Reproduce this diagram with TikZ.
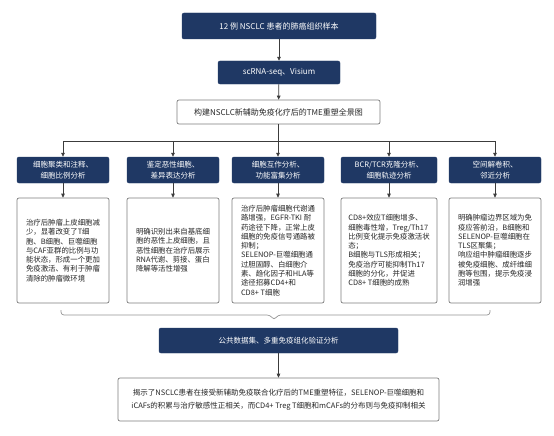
\documentclass[tikz,border=0pt]{standalone}
\usepackage{fontspec}
\setmainfont{Noto Sans CJK SC}
\usetikzlibrary{arrows.meta}
\definecolor{navy}{RGB}{31,56,100}
\definecolor{edgegray}{RGB}{125,125,125}
\definecolor{linegray}{RGB}{60,60,60}
\definecolor{bracegray}{RGB}{150,150,150}
\begin{document}
\begin{tikzpicture}[x=1pt,y=-1pt,
  navybox/.style={fill=navy, draw=navy, rounded corners=2pt, text=white, align=center, inner sep=0pt},
  whitebox/.style={draw=edgegray, fill=white, rounded corners=2pt, line width=0.7pt, inner sep=0pt, text=black!85},
  arr/.style={-{Triangle[length=4pt,width=3.6pt]}, draw=linegray, line width=0.7pt},
  conn/.style={draw=linegray, line width=0.7pt},
  hfont/.style={font=\fontsize{7.5}{11}\selectfont},
  dfont/.style={font=\fontsize{7.4}{9.3}\selectfont, align=left}
]
\useasboundingbox (0,0) rectangle (554,436);
\fill[white] (0,0) rectangle (554,436);

\node[navybox, minimum width=194pt, minimum height=26pt, font=\fontsize{8}{10}\selectfont] (top) at (279,26) {12 例 NSCLC 患者的肺癌组织样本};
\node[navybox, minimum width=122pt, minimum height=23pt, font=\fontsize{8}{10}\selectfont] (scr) at (279,72.5) {scRNA-seq、Visium};
\node[whitebox, minimum width=203pt, minimum height=24pt, font=\fontsize{8}{10}\selectfont] (full) at (278.5,112) {构建NSCLC新辅助免疫化疗后的TME重塑全景图};

\draw[arr] (top) -- (scr);
\draw[arr] (scr) -- (full);

% headers
\node[navybox, hfont, minimum width=92pt, minimum height=26pt] (h1) at (63,170) {细胞聚类和注释、\\细胞比例分析};
\node[navybox, hfont, minimum width=92pt, minimum height=26pt] (h2) at (173,170) {鉴定恶性细胞、\\差异表达分析};
\node[navybox, hfont, minimum width=92pt, minimum height=26pt] (h3) at (278,170) {细胞互作分析、\\功能富集分析};
\node[navybox, hfont, minimum width=96pt, minimum height=26pt] (h4) at (389,170) {BCR/TCR克隆分析、\\细胞轨迹分析};
\node[navybox, hfont, minimum width=92pt, minimum height=26pt] (h5) at (495,170) {空间解卷积、\\邻近分析};

\coordinate (hub) at (278.5,141);
\draw[conn] (full.south) -- (hub);
\draw[conn] (h1.north |- hub) -- (h5.north |- hub);
\foreach \h in {h1,h2,h3,h4,h5} {\draw[arr] (\h.north |- hub) -- (\h.north);}

% details
\node[whitebox, dfont, minimum width=92pt, minimum height=105pt] (d1) at (63,250.5) {治疗后肿瘤上皮细胞减\\少，显著改变了T细\\胞、B细胞、巨噬细胞\\与CAF亚群的比例与功\\能状态，形成一个更加\\免疫激活、有利于肿瘤\\清除的肿瘤微环境};
\node[whitebox, dfont, minimum width=92pt, minimum height=105pt] (d2) at (173,250.5) {明确识别出来自基底细\\胞的恶性上皮细胞，且\\恶性细胞在治疗后展示\\RNA代谢、剪接、蛋白\\降解等活性增强};
\node[whitebox, dfont, minimum width=92pt, minimum height=105pt] (d3) at (278,250.5) {治疗后肿瘤细胞代谢通\\路增强，EGFR-TKI 耐\\药途径下降，正常上皮\\细胞的免疫信号通路被\\抑制；\\SELENOP-巨噬细胞通\\过胆固醇、白细胞介\\素、趋化因子和HLA等\\途径招募CD4+和\\CD8+ T细胞};
\node[whitebox, dfont, minimum width=96pt, minimum height=105pt] (d4) at (389,250.5) {CD8+效应T细胞增多、\\细胞毒性增，Treg/Th17\\比例变化提示免疫激活状\\态；\\B细胞与TLS形成相关；\\免疫治疗可能抑制Th17\\细胞的分化，并促进\\CD8+ T细胞的成熟};
\node[whitebox, dfont, minimum width=92pt, minimum height=105pt] (d5) at (495,250.5) {明确肿瘤边界区域为免\\疫应答前沿，B细胞和\\SELENOP-巨噬细胞在\\TLS区聚集；\\响应组中肿瘤细胞逐步\\被免疫细胞、成纤维细\\胞等包围，提示免疫浸\\润增强};

\foreach \i in {1,...,5} {\draw[arr] (h\i) -- (d\i);}

% brace
\coordinate (brL) at (61,310);
\coordinate (tip) at (274,320);
\coordinate (brR) at (490,310);
\draw[bracegray, line width=0.7pt, rounded corners=3pt]
  (brL) -- (61,315) -- (270,315) -- (tip) -- (278,315) -- (490,315) -- (brR);

\node[navybox, minimum width=239pt, minimum height=25pt, font=\fontsize{7.5}{10}\selectfont] (valid) at (278.5,340.5) {公共数据集、多重免疫组化验证分析};
\node[whitebox, minimum width=321pt, minimum height=43pt, align=center, font=\fontsize{7.5}{13.3}\selectfont] (final) at (278.5,399.5) {揭示了NSCLC患者在接受新辅助免疫联合化疗后的TME重塑特征，SELENOP-巨噬细胞和\\iCAFs的积累与治疗敏感性正相关，而CD4+ Treg T细胞和mCAFs的分布则与免疫抑制相关};
\draw[arr] (valid) -- (final);
\end{tikzpicture}
\end{document}
